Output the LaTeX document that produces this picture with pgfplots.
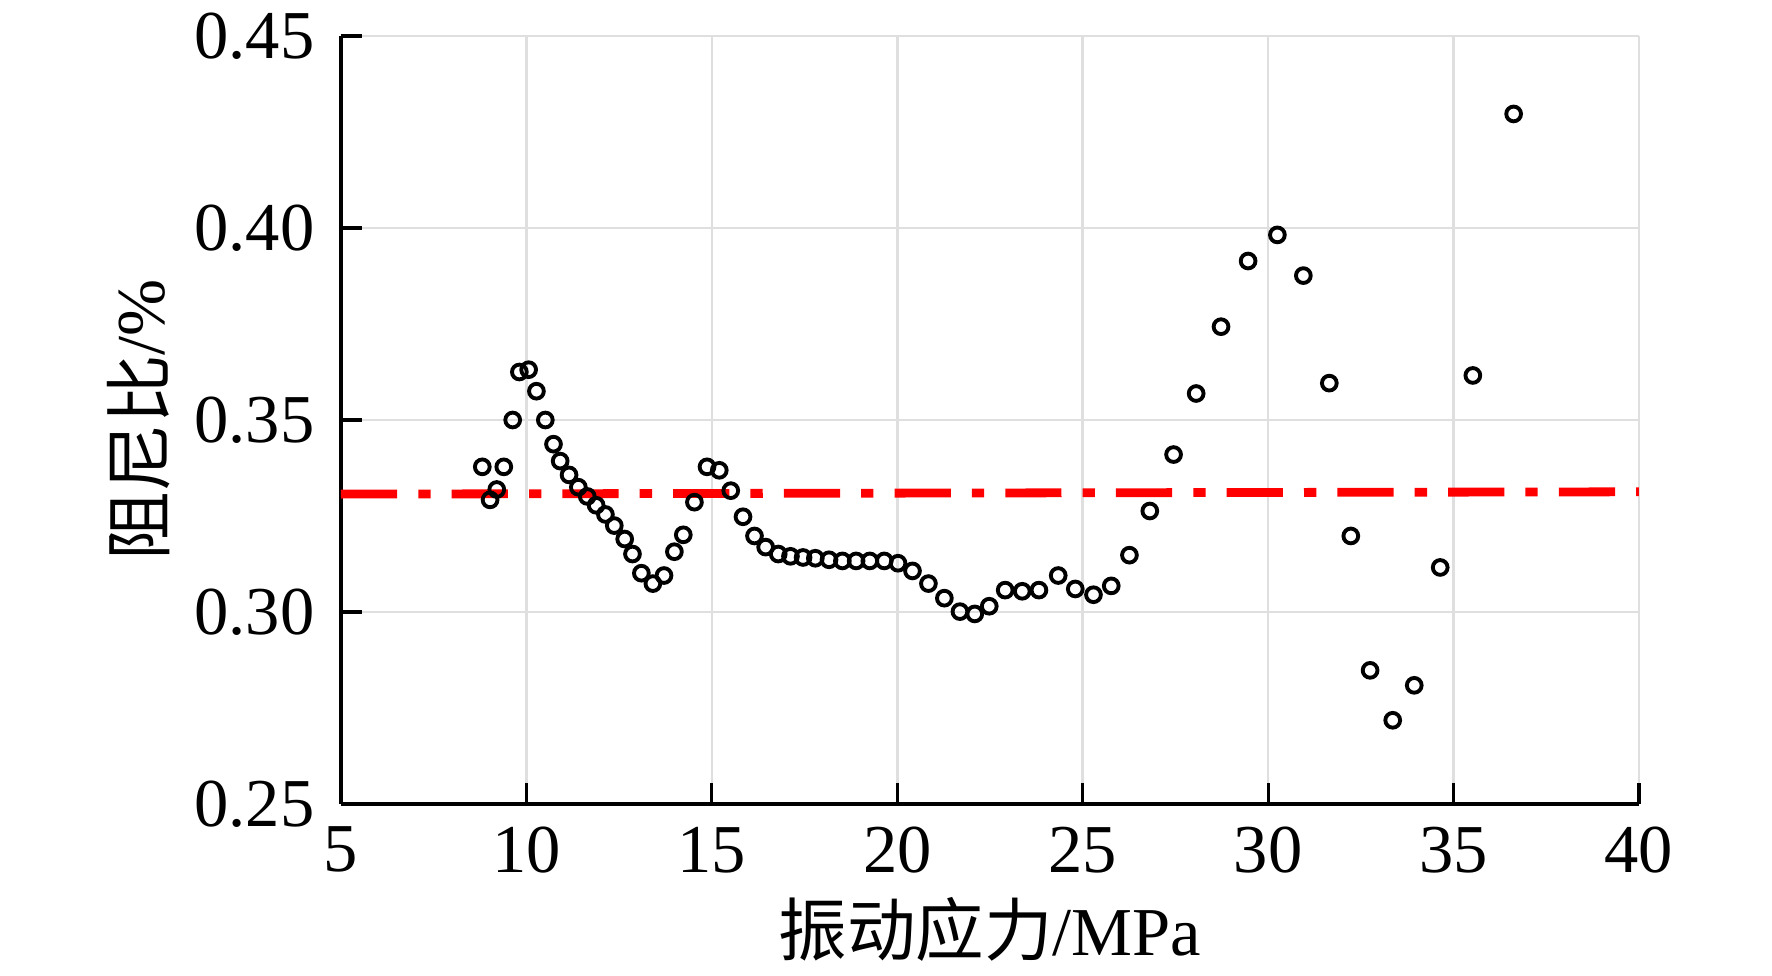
\documentclass[border=0pt]{standalone}
\usepackage{pgfplots}
\pgfplotsset{compat=1.18}
\usepackage{fontspec}
\setmainfont{Liberation Serif}
\newfontfamily\cjk{Noto Sans CJK SC}
\begin{document}
\begin{tikzpicture}
\begin{axis}[
  scale only axis, width=129.8mm, height=76.8mm,
  xmin=5, xmax=40, ymin=0.25, ymax=0.45,
  xtick={5,10,...,40}, ytick={0.25,0.30,...,0.45},
  yticklabel style={xshift=-4pt, /pgf/number format/.cd,fixed,fixed zerofill,precision=2},
  /pgf/number format/assume math mode=true,
  ticklabel style={font=\fontsize{19.5}{21}\selectfont},
  xticklabel style={yshift=-3pt},
  axis x line*=bottom, axis y line*=left,
  axis line style={black, line width=1.1pt},
  tick style={black, line width=0.9pt}, tick align=inside, major tick length=6pt,
  grid=major, grid style={gray!25, line width=0.7pt},
  xlabel={{\cjk 振动应力}/MPa}, ylabel={{\cjk 阻尼比}/\%},
  label style={font=\fontsize{19.5}{21}\selectfont},
  clip=false,
]
\addplot[only marks, mark=o, mark size=2.1pt, black, mark options={line width=1.1pt}] coordinates {
(8.81,0.3378)(9.02,0.3292)(9.20,0.3319)(9.39,0.3378)(9.63,0.350)(9.81,0.3625)(10.06,0.3631)(10.27,0.3575)(10.51,0.350)(10.73,0.3437)(10.91,0.3393)(11.15,0.3357)(11.40,0.3325)(11.64,0.3301)(11.88,0.3278)(12.13,0.3254)(12.37,0.3225)(12.65,0.319)(12.86,0.3151)(13.10,0.3101)(13.41,0.3074)(13.71,0.3095)(13.99,0.3157)(14.23,0.3201)(14.53,0.3286)(14.87,0.3378)(15.20,0.3369)(15.51,0.3316)(15.84,0.3248)(16.15,0.3198)(16.45,0.3169)(16.79,0.3151)(17.12,0.3145)(17.46,0.3142)(17.79,0.314)(18.16,0.3136)(18.52,0.3133)(18.89,0.3133)(19.26,0.3133)(19.65,0.3133)(20.02,0.3127)(20.41,0.3107)(20.84,0.3074)(21.27,0.3036)(21.69,0.3001)(22.09,0.2995)(22.48,0.3015)(22.91,0.3057)(23.37,0.3054)(23.82,0.3057)(24.34,0.3095)(24.80,0.306)(25.29,0.3045)(25.77,0.3068)(26.26,0.3148)(26.81,0.3263)(27.45,0.341)(28.06,0.3569)(28.73,0.3743)(29.46,0.3914)(30.25,0.3982)(30.95,0.3876)(31.65,0.3596)(32.23,0.3198)(32.75,0.2848)(33.36,0.2718)(33.94,0.2809)(34.64,0.3116)(35.52,0.3616)(36.62,0.4297)
};
\addplot[red, line width=2.5pt, dash pattern=on 16pt off 6pt on 3.5pt off 6pt] coordinates {(5,0.3307)(40,0.3313)};
\end{axis}
\path[use as bounding box] (current axis.south west) ++(-34.1mm,-17.2mm) rectangle ++(177.2mm,97.6mm);
\end{tikzpicture}
\end{document}
